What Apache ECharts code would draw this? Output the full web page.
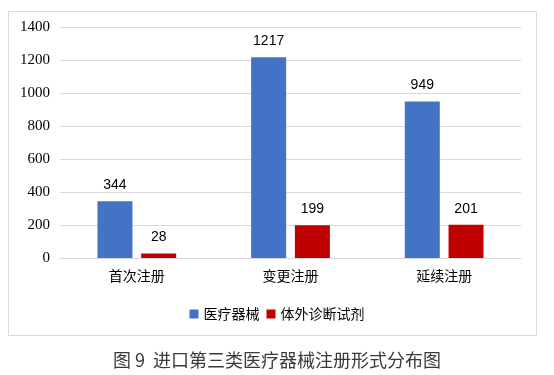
<!DOCTYPE html>
<html><head><meta charset="utf-8">
<script src="https://cdn.jsdelivr.net/npm/echarts@6/dist/echarts.min.js"></script>
<style>html,body{margin:0;padding:0;background:#fff}#c{width:554px;height:375px}</style>
</head><body><div id="c"></div>
<script>
const categories = ['首次注册', '变更注册', '延续注册'];
const seriesNames = ['医疗器械', '体外诊断试剂'];
const deviceValues = [344, 1217, 949];
const ivdValues = [28, 199, 201];
const yTicks = {min: 0, max: 1400, interval: 200};
const caption = '图 9  进口第三类医疗器械注册形式分布图';

const chart = echarts.init(document.getElementById('c'), null, {renderer: 'canvas'});
const labelStyle = {show: true, position: 'top', distance: 9, color: '#000', fontSize: 14, fontFamily: 'Liberation Sans'};
chart.setOption({
  animation: false,
  graphic: [
    {type: 'rect', shape: {x: 8.5, y: 11.5, width: 528, height: 324}, style: {fill: 'none', stroke: '#d9d9d9', lineWidth: 1}, silent: true}
  ],
  title: {text: caption, left: 'center', top: 346, textStyle: {fontSize: 18, fontWeight: 'normal', color: '#3a3a3a', fontFamily: 'Noto Sans CJK SC'}},
  legend: {data: seriesNames, top: 302, left: 'center', itemWidth: 9, itemHeight: 9, itemGap: 7, icon: 'rect',
    textStyle: {fontSize: 14, color: '#000', fontFamily: 'Noto Sans CJK SC'}},
  grid: {left: 60, right: 33, top: 27, bottom: 117},
  xAxis: {type: 'category', data: categories,
    axisLine: {lineStyle: {color: '#d9d9d9'}}, axisTick: {show: false},
    axisLabel: {color: '#000', fontSize: 14, margin: 11, fontFamily: 'Noto Sans CJK SC'}},
  yAxis: {type: 'value', min: yTicks.min, max: yTicks.max, interval: yTicks.interval,
    axisLine: {show: false}, axisTick: {show: false},
    splitLine: {lineStyle: {color: '#d9d9d9'}},
    axisLabel: {color: '#000', fontSize: 15, margin: 10, fontFamily: 'Liberation Serif', formatter: v => String(v)}},
  series: [
    {name: seriesNames[0], type: 'bar', data: deviceValues, barWidth: 35, barGap: '25%', itemStyle: {color: '#4472C4'}, label: labelStyle},
    {name: seriesNames[1], type: 'bar', data: ivdValues, barWidth: 35, itemStyle: {color: '#C00000'}, label: labelStyle}
  ]
});
</script></body></html>
